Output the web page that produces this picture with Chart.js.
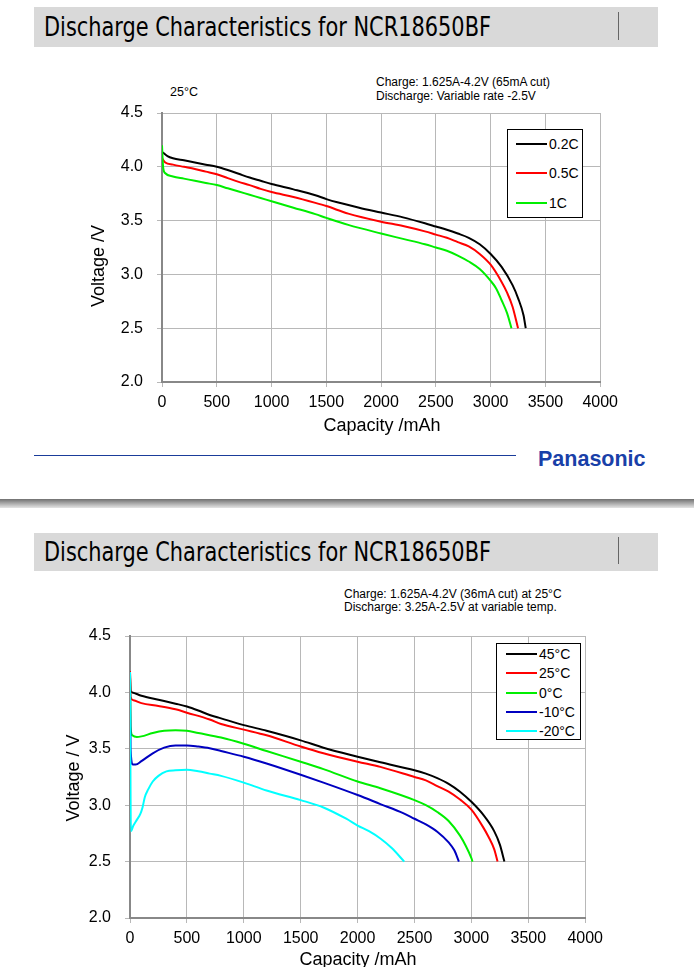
<!DOCTYPE html>
<html>
<head>
<meta charset="utf-8">
<script src="https://cdn.jsdelivr.net/npm/chart.js@4.4.1/dist/chart.umd.min.js"></script>
<style>
    body { margin: 0; background: #fff; width: 694px; height: 967px; overflow: hidden; position: relative;
           font-family: "Liberation Sans", Arial, sans-serif; color: #000; }
    .abs { position: absolute; white-space: nowrap; }
    .bar { position: absolute; left: 34px; width: 624px; background: #d9d9d9; }
    .bar .t { position: absolute; left: 10px; font-family: "DejaVu Sans Condensed", "DejaVu Sans", sans-serif;
              font-size: 26px; line-height: 30px; transform-origin: left center; white-space: nowrap; color: #000; }
    .bar .v { position: absolute; left: 584px; width: 1px; background: #666; }
    .note { font-size: 12px; line-height: 14px; }
    .axt { font-size: 18px; line-height: 20px; width: 200px; text-align: center; }
    .legend { position: absolute; border: 1px solid #000; background: #fff; box-sizing: border-box; }
    .legend .row { position: absolute; left: 0; height: 16px; }
    .legend .sw { position: absolute; height: 2px; top: 7px; }
    .legend .lb { position: absolute; font-size: 14px; line-height: 16px; top: 0; }
    canvas { position: absolute; }
</style>
</head>
<body>

<div class="bar" style="top:7px;height:40px;"><div class="t" style="top:5px;">Discharge Characteristics for NCR18650BF</div><div class="v" style="top:5px;height:28px;"></div></div>
<div class="abs note" style="left:170px;top:85px;font-size:12.5px;">25°C</div>
<div class="abs note" style="left:376px;top:75px;">Charge: 1.625A-4.2V (65mA cut)</div>
<div class="abs note" style="left:376px;top:89px;">Discharge: Variable rate -2.5V</div>

<canvas id="rateChart" width="524" height="331" style="left:100px;top:89px;width:524px;height:331px;"></canvas>
<div class="abs axt" style="left:282px;top:415px;">Capacity /mAh</div>
<div class="abs axt" style="left:-2px;top:256px;transform:rotate(-90deg);">Voltage /V</div>
<div class="legend" id="rateLegend" style="left:507px;top:129px;width:76px;height:89px;"></div>

<div class="abs" style="left:34px;top:455px;width:482px;height:1px;background:#1a3c9a;"></div>
<div class="abs" style="left:538px;top:447px;font-size:21.5px;line-height:24px;font-weight:bold;color:#1940a8;">Panasonic</div>
<div class="abs" style="left:0;top:499px;width:694px;height:9px;background:linear-gradient(#707070,#9a9a9a 35%,#c8c8c8 75%,#e4e4e4);"></div>

<div class="bar" style="top:533px;height:38px;"><div class="t" style="top:4px;">Discharge Characteristics for NCR18650BF</div><div class="v" style="top:4px;height:27px;"></div></div>
<div class="abs note" style="left:344px;top:587px;">Charge: 1.625A-4.2V (36mA cut) at 25°C</div>
<div class="abs note" style="left:344px;top:600px;">Discharge: 3.25A-2.5V at variable temp.</div>

<canvas id="tempChart" width="539" height="344" style="left:70px;top:612px;width:539px;height:344px;"></canvas>
<div class="abs axt" style="left:258px;top:949px;">Capacity /mAh</div>
<div class="abs axt" style="left:-27px;top:768px;transform:rotate(-90deg);">Voltage / V</div>
<div class="legend" id="tempLegend" style="left:496px;top:643px;width:85px;height:97px;"></div>

<script>
// axis ticks (shared by both charts)
const xTicks = [0, 500, 1000, 1500, 2000, 2500, 3000, 3500, 4000];
const yTicks = [2.0, 2.5, 3.0, 3.5, 4.0, 4.5];

// top chart: discharge rate at 25C
const rateNames = ['0.2C', '0.5C', '1C'];
const rateColors = ['#000000', '#ff0000', '#00ee00'];
const cap02C = [0, 50, 100, 200, 300, 400, 500, 600, 700, 800, 900, 1000, 1200, 1400, 1500, 1600, 1800, 2000, 2200, 2400, 2500, 2600, 2700, 2800, 2900, 3000, 3100, 3200, 3250, 3300, 3320];
const volt02C = [4.14, 4.10, 4.08, 4.06, 4.04, 4.02, 4.00, 3.97, 3.935, 3.90, 3.87, 3.84, 3.79, 3.735, 3.70, 3.67, 3.62, 3.575, 3.53, 3.475, 3.445, 3.415, 3.38, 3.34, 3.28, 3.19, 3.07, 2.90, 2.78, 2.62, 2.50];
const cap05C = [0, 30, 100, 200, 300, 400, 500, 600, 700, 800, 900, 1000, 1200, 1400, 1500, 1700, 2000, 2200, 2400, 2500, 2600, 2700, 2800, 2900, 3000, 3100, 3150, 3200, 3250];
const volt05C = [4.08, 4.04, 4.02, 4.00, 3.98, 3.955, 3.93, 3.895, 3.86, 3.83, 3.795, 3.765, 3.72, 3.665, 3.635, 3.565, 3.49, 3.45, 3.40, 3.37, 3.34, 3.30, 3.26, 3.19, 3.09, 2.93, 2.83, 2.70, 2.50];
const cap1C = [0, 10, 30, 100, 200, 300, 400, 500, 600, 700, 800, 900, 1000, 1200, 1400, 1500, 1700, 2000, 2200, 2400, 2500, 2600, 2700, 2800, 2900, 3000, 3050, 3100, 3150, 3190];
const volt1C = [4.20, 4.00, 3.94, 3.91, 3.89, 3.87, 3.85, 3.83, 3.80, 3.77, 3.74, 3.71, 3.68, 3.62, 3.56, 3.525, 3.46, 3.38, 3.33, 3.28, 3.25, 3.22, 3.175, 3.12, 3.05, 2.94, 2.87, 2.76, 2.64, 2.50];

// bottom chart: 3.25A discharge at several temperatures
const tempNames = ['45°C', '25°C', '0°C', '-10°C', '-20°C'];
const tempColors = ['#000000', '#ff0000', '#00ee00', '#0000c0', '#00ffff'];
const cap45 = [0, 5, 20, 100, 250, 400, 500, 600, 700, 800, 1000, 1200, 1500, 1700, 2000, 2200, 2500, 2600, 2700, 2800, 2900, 3000, 3100, 3200, 3250, 3290];
const volt45 = [4.18, 4.02, 4.00, 3.97, 3.935, 3.90, 3.875, 3.84, 3.80, 3.77, 3.71, 3.66, 3.575, 3.51, 3.43, 3.38, 3.31, 3.28, 3.24, 3.19, 3.12, 3.03, 2.92, 2.77, 2.65, 2.50];
const cap25 = [0, 5, 30, 100, 250, 400, 500, 700, 800, 1000, 1200, 1500, 1700, 2000, 2200, 2500, 2600, 2700, 2800, 2900, 3000, 3100, 3150, 3200, 3230];
const volt25 = [4.19, 3.96, 3.93, 3.905, 3.88, 3.85, 3.82, 3.76, 3.72, 3.67, 3.62, 3.52, 3.46, 3.385, 3.34, 3.25, 3.22, 3.17, 3.12, 3.05, 2.96, 2.81, 2.72, 2.61, 2.50];
const cap0 = [0, 5, 20, 60, 100, 200, 300, 400, 500, 600, 800, 1000, 1200, 1500, 1700, 2000, 2200, 2500, 2600, 2700, 2800, 2900, 2950, 3000, 3010];
const volt0 = [4.18, 3.70, 3.62, 3.605, 3.61, 3.64, 3.66, 3.665, 3.66, 3.64, 3.60, 3.545, 3.48, 3.385, 3.32, 3.21, 3.15, 3.045, 3.00, 2.94, 2.86, 2.73, 2.64, 2.53, 2.50];
const capM10 = [0, 5, 25, 50, 100, 200, 300, 400, 500, 600, 700, 800, 1000, 1200, 1500, 1700, 2000, 2200, 2400, 2500, 2600, 2700, 2800, 2850, 2890];
const voltM10 = [4.18, 3.50, 3.36, 3.36, 3.39, 3.46, 3.51, 3.53, 3.53, 3.52, 3.505, 3.48, 3.43, 3.37, 3.27, 3.20, 3.09, 3.01, 2.93, 2.88, 2.83, 2.765, 2.67, 2.60, 2.50];
const capM20 = [0, 8, 30, 60, 90, 110, 130, 160, 200, 250, 320, 400, 500, 600, 700, 800, 1000, 1200, 1500, 1700, 1900, 2000, 2100, 2200, 2300, 2410];
const voltM20 = [4.18, 2.77, 2.82, 2.87, 2.92, 2.98, 3.07, 3.14, 3.21, 3.26, 3.30, 3.31, 3.315, 3.30, 3.28, 3.26, 3.20, 3.13, 3.045, 2.98, 2.88, 2.82, 2.77, 2.705, 2.62, 2.50];

Chart.defaults.font.family = '"Liberation Sans", Arial, sans-serif';
Chart.defaults.color = '#000';

function buildChart(canvasId, names, caps, volts, colors, yAxisWidth) {
    const datasets = names.map(function (name, i) {
        return {
            label: name,
            data: caps[i].map(function (c, j) { return { x: c, y: volts[i][j] }; }),
            borderColor: colors[i],
            borderWidth: 2,
            pointRadius: 0,
            fill: false,
            cubicInterpolationMode: 'monotone',
            order: names.length - i   // later series drawn on top
        };
    });
    return new Chart(document.getElementById(canvasId), {
        type: 'line',
        data: { datasets: datasets },
        options: {
            responsive: false,
            animation: false,
            // top padding has to beat the y-axis label padding (half label + tick padding)
            layout: { padding: { top: 24, right: 22, left: 0, bottom: 0 } },
            plugins: { legend: { display: false }, tooltip: { enabled: false } },
            scales: {
                x: {
                    type: 'linear', min: 0, max: 4000,
                    afterBuildTicks: function (s) { s.ticks = xTicks.map(function (v) { return { value: v }; }); },
                    afterFit: function (s) { s.height = 38; },
                    ticks: { font: { size: 16 }, padding: 6, maxRotation: 0, callback: function (v) { return String(v); } },
                    grid: { color: '#b8b8b8', tickLength: 5 },
                    border: { color: '#888', width: 2 }
                },
                y: {
                    type: 'linear', min: 2.0, max: 4.5,
                    afterBuildTicks: function (s) { s.ticks = yTicks.map(function (v) { return { value: v }; }); },
                    afterFit: function (s) { s.width = yAxisWidth; },
                    ticks: { font: { size: 16 }, padding: 14, callback: function (v) { return v.toFixed(1); } },
                    grid: { color: '#b8b8b8', tickLength: 5 },
                    border: { color: '#888', width: 2 }
                }
            }
        }
    });
}

// legend boxes drawn in html, inside the plot like the original
function buildLegend(boxId, names, colors, firstRow, rowStep, lineLeft, lineWidth) {
    const box = document.getElementById(boxId);
    names.forEach(function (name, i) {
        const row = document.createElement('div');
        row.className = 'row';
        row.style.top = (firstRow + i * rowStep - 8) + 'px';
        row.style.width = '100%';
        row.innerHTML = '<div class="sw" style="left:' + lineLeft + 'px;width:' + lineWidth + 'px;background:' + colors[i] + ';"></div>' +
            '<div class="lb" style="left:' + (lineLeft + lineWidth + 2) + 'px;">' + name + '</div>';
        box.appendChild(row);
    });
}

buildChart('rateChart', rateNames, [cap02C, cap05C, cap1C], [volt02C, volt05C, volt1C], rateColors, 62);
buildChart('tempChart', tempNames, [cap45, cap25, cap0, capM10, capM20], [volt45, volt25, volt0, voltM10, voltM20], tempColors, 60);
buildLegend('rateLegend', rateNames, rateColors, 14, 29.3, 8, 31);
buildLegend('tempLegend', tempNames, tempColors, 10, 19.3, 9, 31);

// squeeze the narrow title font to the width of the original
document.querySelectorAll('.bar .t').forEach(function (t) {
    const w = t.getBoundingClientRect().width;
    t.style.transform = 'scaleX(' + (447 / w) + ')';
});
</script>
</body>
</html>
